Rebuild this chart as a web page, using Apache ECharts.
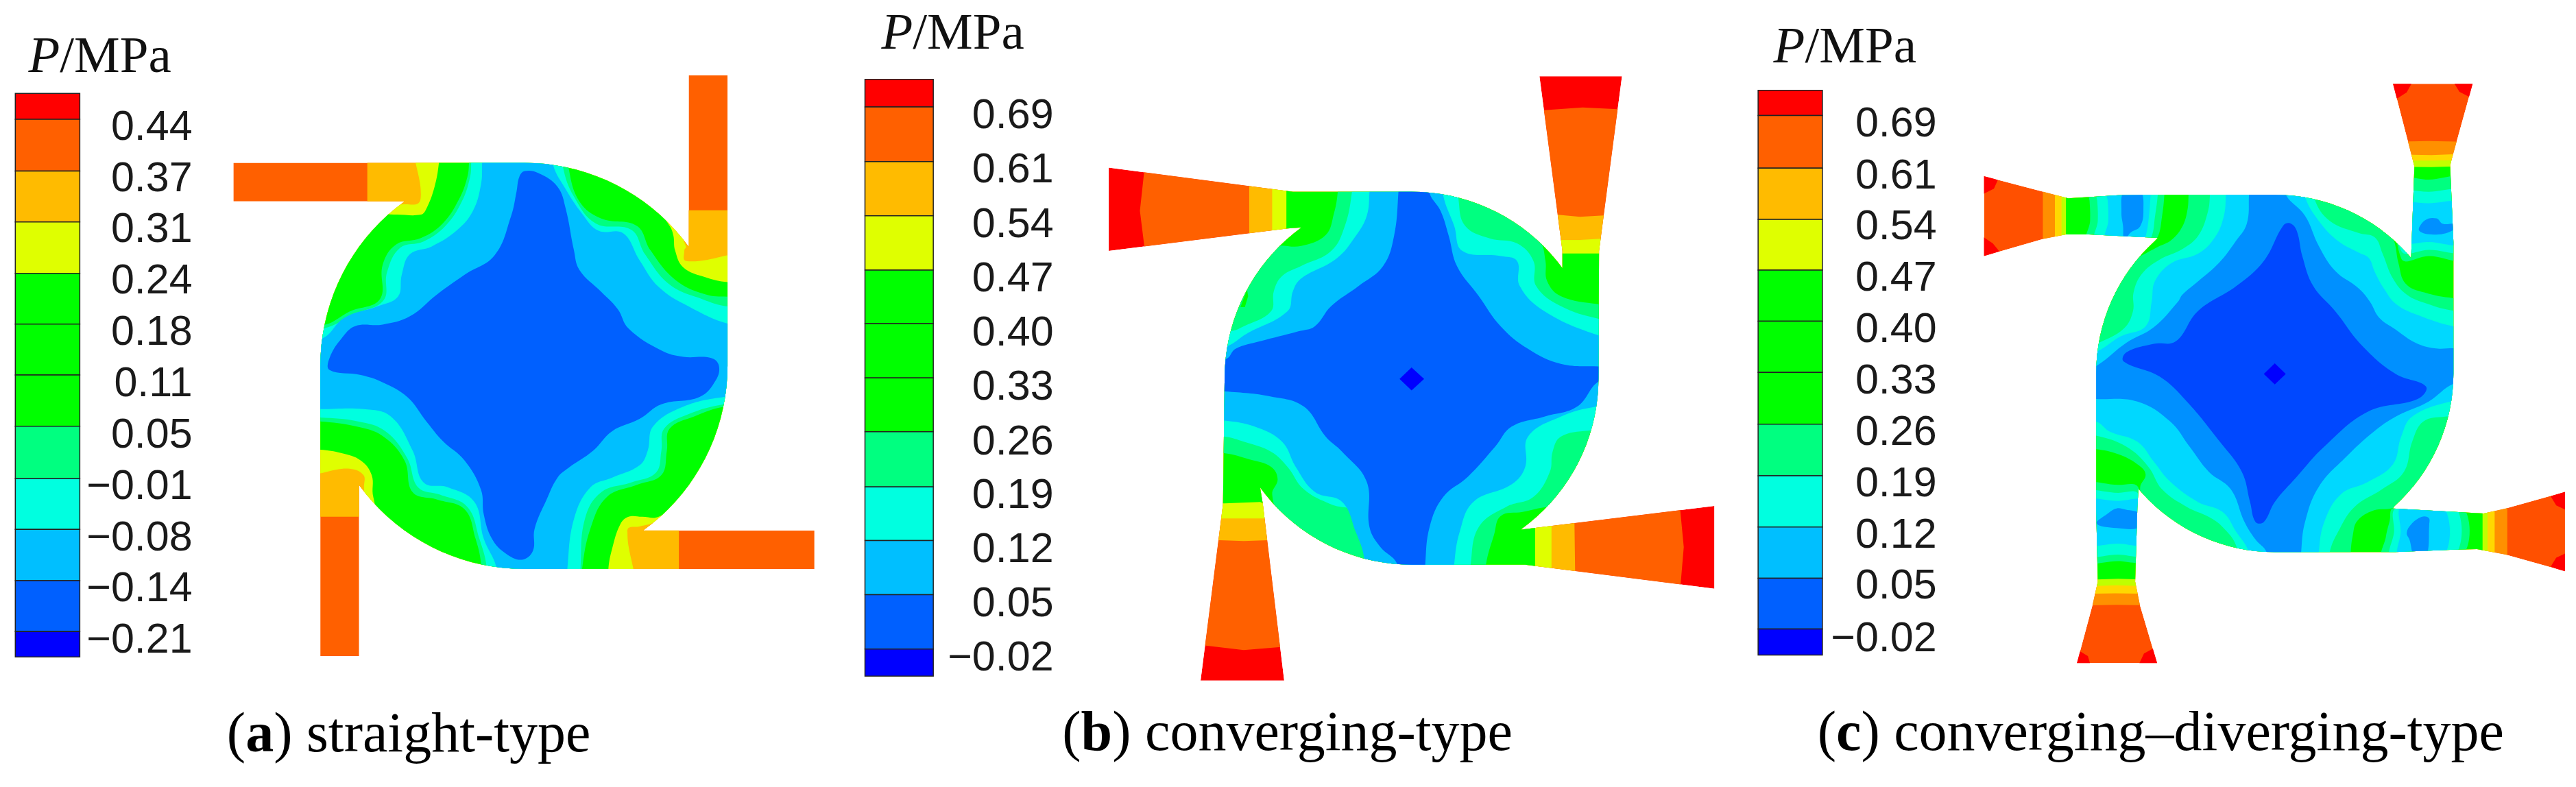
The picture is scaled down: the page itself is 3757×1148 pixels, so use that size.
<!DOCTYPE html>
<html><head><meta charset="utf-8">
<style>html,body{margin:0;padding:0;background:#fff}#c{width:3757px;height:1148px}</style>
<script src="https://cdn.jsdelivr.net/npm/echarts@6/dist/echarts.min.js"></script>
</head><body><div id="c"></div>
<script>
// ---- colour bar data ----
const labelsA=['0.44','0.37','0.31','0.24','0.18','0.11','0.05','\u22120.01','\u22120.08','\u22120.14','\u22120.21'];
const labelsB=['0.69','0.61','0.54','0.47','0.40','0.33','0.26','0.19','0.12','0.05','\u22120.02'];
const labelsC=['0.69','0.61','0.54','0.47','0.40','0.33','0.26','0.19','0.12','0.05','\u22120.02'];
const barColors=['#ff0000','#ff6000','#ffbb00','#dfff00','#00ff00','#00ff00','#00ff00','#00ff80','#00ffe0','#00bfff','#0060ff','#0000ff'];
const edgesA=[149,202,308,412,517,621,725,830,937,1041,1146,1250,1302];
const edgesB=[158,213,322,430,538,645,753,860,970,1077,1185,1293,1347];
const edgesC=[180,230,335,437,538,640,742,845,948,1050,1152,1253,1305];
const labelYA=[220,325,429,535,640,745,850,955,1060,1165,1270];
const labelYB=[233,341,449,557,665,773,883,989,1097,1205,1313];
const labelYC=[249,352,454,556,659,761,864,966,1068,1170,1274];

// the swirl chamber of every panel is one circle, seen through the stretched panel scale
function chamberArc(b,side,deg){
  const pts=[];
  for(let d=0;d<=deg;d+=3){
    const s=Math.sin(d*Math.PI/180),c=Math.cos(d*Math.PI/180);
    if(side==='tr')pts.push([b.cx+b.rx*s,b.cy-b.ry*c]);
    if(side==='br')pts.push([b.cx+b.rx*c,b.cy+b.ry*s]);
    if(side==='bl')pts.push([b.cx-b.rx*s,b.cy+b.ry*c]);
    if(side==='tl')pts.push([b.cx-b.rx*c,b.cy-b.ry*s]);
  }
  return pts;
}
const aChamber={cx:958.5,cy:706.5,rx:372.5,ry:415.5};
const bChamber={cx:1027,cy:753.5,rx:342,ry:371.5};
const cChamber={cx:1020,cy:744,rx:325,ry:356};

// ---- panel (a) straight-type: contour regions ----
const aOutline=[[427,291],...chamberArc(aChamber,'tr',54),[1260,462],[1260,112],[1331,112],[1331,706.5],...chamberArc(aChamber,'br',54),[1177,1043],[1490,1043],[1490,1122],...chamberArc(aChamber,'bl',54),[657,951],[657,1300],[586,1300],...chamberArc(aChamber,'tl',54),[739,370],[427,370]];
const aAmber=[[672,250],[1210,250],[1210,388],[1400,388],[1400,1000],[1242,1000],[1242,1170],[720,1170],[720,1015],[540,1015],[540,400],[672,400]];
const aYellow=[[770,250],[770,355],[765,374],[738,376],[700,380],[540,500],[540,917],[640,917],[665,930],[666,955],[668,990],[720,1060],[900,1170],[1148,1170],[1148,1050],[1150,1038],[1170,1035],[1200,1025],[1400,900],[1400,492],[1255,492],[1252,470],[1255,462],[1235,420],[1150,300],[1000,250]];
const aGreen=[[540,600],[680,400],[722,397],[770,397],[780,385],[795,340],[803,291],[805,250],[1000,250],[1150,300],[1225,420],[1232,440],[1235,470],[1250,505],[1290,525],[1331,535],[1400,535],[1400,900],[1205,1015],[1175,1015],[1150,1015],[1135,1030],[1120,1080],[1113,1122],[1113,1170],[900,1170],[700,1020],[683,975],[680,930],[660,900],[625,885],[586,878],[540,878]];
const aMint=[[540,622],[595,622],[640,595],[695,570],[700,500],[725,458],[770,445],[810,415],[840,365],[855,320],[858,291],[858,260],[1040,260],[1040,300],[1060,370],[1100,405],[1165,420],[1190,470],[1235,530],[1290,560],[1331,565],[1370,565],[1370,790],[1325,790],[1270,810],[1225,835],[1220,880],[1210,930],[1165,950],[1110,975],[1080,1040],[1065,1122],[1065,1160],[880,1160],[880,1110],[870,1060],[850,1000],[800,980],[755,965],[740,900],[700,850],[650,830],[586,820],[540,820]];
const aCyan=[[540,630],[592,630],[650,600],[702,572],[708,515],[732,465],[775,452],[815,420],[845,370],[860,320],[862,291],[862,260],[1030,260],[1030,300],[1050,360],[1090,415],[1155,428],[1180,478],[1225,540],[1285,570],[1331,585],[1370,585],[1370,785],[1325,785],[1260,805],[1215,835],[1210,880],[1200,925],[1155,945],[1100,965],[1070,1020],[1062,1122],[1062,1160],[890,1160],[890,1115],[877,1060],[855,995],[805,970],[765,955],[745,895],[705,840],[655,820],[586,812],[540,812]];
const aSky=[[540,650],[590,650],[630,608],[690,585],[728,565],[735,520],[750,478],[790,462],[835,430],[865,390],[880,335],[882,291],[882,260],[1012,260],[1012,296],[1035,345],[1065,395],[1095,430],[1140,435],[1170,490],[1205,545],[1260,585],[1331,620],[1370,620],[1370,770],[1325,770],[1250,790],[1195,830],[1185,880],[1170,910],[1120,935],[1080,955],[1050,1020],[1038,1122],[1038,1160],[908,1160],[908,1118],[885,1060],[868,985],[820,955],[775,945],[755,880],[715,810],[665,795],[586,795],[540,795]];
const aBlue=[[960,308],[985,312],[1020,340],[1035,385],[1050,470],[1060,510],[1100,555],[1130,590],[1150,630],[1210,675],[1250,688],[1300,690],[1315,705],[1310,735],[1280,770],[1210,785],[1170,815],[1120,840],[1085,880],[1040,915],[1020,935],[1000,980],[978,1040],[975,1085],[955,1103],[925,1090],[900,1060],[885,1010],[880,960],[850,900],[810,860],[780,820],[745,770],[700,740],[660,725],[603,715],[603,690],[625,650],[650,625],[700,622],[750,605],[800,560],[850,520],[905,480],[935,400],[945,350],[950,320]];

// ---- panel (b) converging-type ----
const bOutline=[[473,334],[810,382],...chamberArc(bChamber,'tr',54),[1303,535],[1303,500],[1261,152],[1412,152],[1370,500],[1369,753],...chamberArc(bChamber,'br',54),[1228,1055],[1581,1008],[1581,1173],[1235,1125],...chamberArc(bChamber,'bl',54),[750,972],[755,1005],[794,1356],[641,1356],[682,1005],[685,753],...chamberArc(bChamber,'tl',54),[826,453],[800,455],[473,500]];
const bOrange=[[536,250],[1230,250],[1230,218],[1265,220],[1340,214],[1410,218],[1440,218],[1440,950],[1518,950],[1518,1010],[1525,1090],[1518,1180],[1518,1230],[800,1230],[800,1288],[720,1295],[640,1285],[600,1285],[600,520],[536,520],[538,490],[530,420],[538,340]];
const bAmber=[[730,330],[1250,330],[1250,428],[1295,428],[1335,432],[1400,428],[1400,980],[1325,980],[1325,1040],[1327,1200],[800,1200],[800,1075],[720,1078],[640,1075],[640,540],[730,540]];
const bYellow=[[772,330],[1250,330],[1290,478],[1335,478],[1400,474],[1400,1000],[1283,1020],[1283,1200],[800,1200],[770,1033],[720,1033],[640,1033],[640,540],[740,500],[772,470]];
const bGreen=[[798,330],[1250,330],[1290,505],[1369,505],[1400,505],[1400,1000],[1253,1040],[1253,1200],[800,1200],[770,1010],[750,1000],[685,1003],[640,1003],[640,540],[770,480],[798,462]];
const bMint=[[650,903],[650,620],[770,495],[825,490],[870,468],[885,425],[892,382],[892,350],[1100,350],[1200,400],[1262,480],[1272,520],[1275,560],[1300,590],[1369,606],[1400,606],[1400,1000],[1275,1010],[1230,1020],[1190,1028],[1178,1065],[1163,1125],[1163,1160],[880,1160],[790,1040],[772,985],[782,955],[770,930],[730,915],[686,903]];
const bPatch=[[714,612],[726,577],[728,590],[722,612]];
const bCyan=[[650,660],[695,660],[720,650],[770,620],[775,580],[790,550],[825,530],[880,500],[905,450],[918,382],[918,350],[1113,350],[1113,398],[1125,450],[1170,475],[1220,485],[1250,520],[1255,570],[1300,610],[1369,635],[1400,635],[1400,858],[1350,858],[1300,870],[1285,900],[1280,940],[1250,990],[1200,1010],[1150,1050],[1135,1125],[1135,1160],[972,1160],[972,1120],[950,1075],[925,1020],[880,1005],[830,975],[800,930],[770,900],[720,880],[686,870],[650,870]];
const bSky=[[650,690],[688,690],[725,665],[800,620],[810,580],[825,555],[890,515],[925,470],[945,430],[950,382],[950,350],[1085,350],[1085,390],[1105,450],[1120,500],[1190,510],[1220,520],[1225,570],[1270,620],[1369,668],[1400,668],[1400,810],[1365,810],[1300,830],[1240,870],[1235,930],[1210,965],[1140,1000],[1115,1060],[1105,1125],[1105,1160],[940,1160],[940,1110],[925,1060],[900,1000],[850,980],[815,930],[790,880],[740,850],[685,838],[650,838]];
const bBlue=[[650,715],[688,715],[705,695],[750,680],[820,660],[850,650],[880,610],[930,570],[975,530],[995,470],[1003,382],[1003,350],[1060,350],[1060,385],[1080,420],[1095,470],[1110,530],[1150,590],[1190,650],[1240,695],[1300,725],[1369,730],[1400,730],[1400,760],[1369,760],[1330,810],[1270,830],[1210,850],[1180,890],[1130,950],[1085,990],[1060,1050],[1052,1125],[1052,1160],[1000,1160],[1000,1122],[970,1090],[950,1050],[945,960],[900,900],[870,870],[830,810],[770,790],[686,780],[650,780]];
const bDiamond=[[1027,732],[1050,755],[1027,778],[1005,755]];

// ---- panel (c) converging-diverging-type ----
const cOutline=[[491,351],[599,382],[644,395],[736,389],[800,388],...chamberArc(cChamber,'tr',49.7),[1268,514],[1274,332],[1272,323],[1235,167],[1380,167],[1341,321],[1339,330],[1345,482],[1345,744],...chamberArc(cChamber,'br',48.6),[1235,1013],[1400,1023],[1440,1013],[1548,980],[1548,1138],[1440,1105],[1388,1094],[1347,1095],[1239,1100],...chamberArc(cChamber,'bl',49.7),[772,974],[770,1011],[766,1159],[775,1207],[806,1321],[660,1321],[688,1207],[698,1159],[695,1011],[695,744],...chamberArc(cChamber,'tl',49),[807,474],[682,467],[640,467],[599,476],[491,510]];
const cAmber=[[598,330],[1200,330],[1200,283],[1300,281],[1400,283],[1400,950],[1443,950],[1443,1170],[850,1170],[850,1207],[732,1205],[630,1207],[630,530],[598,530]];
const cGold=[[620,330],[1200,330],[1200,307],[1305,309],[1400,305],[1400,950],[1420,950],[1420,1170],[850,1170],[850,1184],[730,1182],[630,1184],[630,530],[620,530]];
const cLime=[[632,330],[1200,330],[1200,320],[1305,320],[1400,318],[1400,960],[1407,960],[1407,1170],[850,1170],[850,1170],[732,1166],[630,1170],[630,530],[632,530]];
const cGreen=[[640,330],[1200,330],[1200,332],[1305,333],[1400,330],[1400,960],[1398,1000],[1398,1170],[850,1170],[850,1157],[735,1153],[630,1157],[630,530],[640,500]];
const cMint=[[660,895],[660,600],[760,520],[773,512],[807,492],[832,478],[852,451],[861,419],[863,389],[863,360],[1100,360],[1180,410],[1225,460],[1237,480],[1245,524],[1258,565],[1293,583],[1345,594],[1380,594],[1380,980],[1275,990],[1235,1012],[1200,1017],[1170,1038],[1162,1066],[1158,1102],[1158,1130],[900,1130],[785,1030],[775,972],[785,945],[770,925],[735,905],[695,895]];
const cMintL=[[680,370],[683,400],[684,440],[680,480],[795,476],[807,472],[815,430],[819,389],[819,370]];
const cMintT=[[1250,362],[1300,358],[1370,360],[1370,513],[1300,510],[1250,515]];
const cMintR=[[1236,1012],[1358,1005],[1358,1110],[1218,1110],[1222,1070],[1229,1038]];
const cMintB=[[660,970],[735,966],[772,972],[785,1113],[735,1118],[660,1113]];
const cAqua=[[660,868],[660,700],[700,683],[745,655],[762,620],[763,583],[778,546],[811,517],[852,496],[881,469],[898,423],[902,389],[902,360],[1092,360],[1092,396],[1120,440],[1172,464],[1202,473],[1216,505],[1235,555],[1260,587],[1297,605],[1345,619],[1380,619],[1380,830],[1330,830],[1290,840],[1270,880],[1255,940],[1215,975],[1165,1010],[1135,1060],[1120,1100],[1120,1130],[950,1130],[950,1088],[925,1050],[900,1030],[860,1010],[815,975],[790,930],[750,890],[695,868]];
const cAquaL=[[694,370],[697,400],[698,440],[694,480],[785,482],[796,471],[802,432],[807,389],[807,370]];
const cAquaT=[[1250,388],[1300,382],[1370,386],[1370,497],[1300,498],[1250,500]];
const cAquaR=[[1241,1012],[1345,1005],[1345,1110],[1233,1110],[1237,1060]];
const cAquaB=[[660,985],[735,982],[772,985],[785,1102],[735,1105],[660,1102]];
const cSky=[[660,840],[660,710],[697,700],[740,670],[785,650],[796,601],[802,560],[832,524],[881,505],[911,473],[927,432],[931,389],[931,360],[1075,360],[1075,392],[1100,440],[1135,480],[1172,503],[1191,514],[1202,542],[1218,574],[1241,606],[1281,628],[1345,650],[1380,650],[1380,800],[1340,800],[1270,830],[1250,870],[1235,925],[1190,960],[1140,985],[1110,1040],[1100,1100],[1100,1130],[972,1130],[972,1098],[950,1060],[925,1020],[880,1000],[830,960],[800,920],[770,880],[720,860],[695,840]];
const cSkyL=[[713,370],[716,400],[717,440],[713,480],[780,482],[785,471],[790,441],[794,389],[794,370]];
const cSkyT=[[1250,410],[1300,405],[1370,408],[1370,483],[1300,482],[1250,480]];
const cSkyR=[[1251,1008],[1326,1008],[1326,1110],[1247,1110],[1249,1060]];
const cSkyB=[[660,1000],[735,998],[785,1000],[785,1081],[735,1083],[660,1081]];
const cBlue=[[660,795],[660,745],[697,728],[750,683],[800,652],[844,601],[852,587],[881,560],[919,523],[948,482],[969,446],[973,389],[973,360],[1040,360],[1040,388],[1075,430],[1100,490],[1130,540],[1172,574],[1193,601],[1210,633],[1239,656],[1276,683],[1310,694],[1345,694],[1380,694],[1380,765],[1345,765],[1300,800],[1240,830],[1200,860],[1150,910],[1100,970],[1075,1040],[1068,1100],[1068,1130],[1005,1130],[1005,1100],[985,1075],[965,1040],[940,975],[900,940],[865,890],[830,840],[770,800],[695,795]];
const cBlobL=[[746,380],[775,380],[781,419],[775,451],[757,464],[746,480],[744,451],[741,423]];
const cBlobT=[[1283,460],[1293,439],[1314,435],[1326,446],[1350,446],[1350,455],[1318,467]];
const cBlobR=[[1260,1062],[1268,1045],[1287,1030],[1300,1032],[1301,1045],[1295,1110],[1275,1110],[1265,1075]];
const cBlobB=[[696,1043],[715,1024],[732,1013],[748,1015],[775,1024],[775,1050],[732,1052]];
const cCore=[[1048,445],[1060,460],[1070,510],[1090,570],[1130,620],[1180,690],[1240,745],[1295,770],[1280,795],[1190,820],[1110,890],[1060,950],[1020,1000],[1000,1040],[985,1040],[975,1000],[960,940],[920,880],[860,800],[810,750],[745,720],[750,702],[800,685],[840,680],[880,620],[950,570],[1000,520],[1035,450]];
const cDiamond=[[1020,724],[1040,745],[1020,766],[1000,745]];
const cRed1=[[480,340],[516,359],[509,376],[480,392]];
const cRed2=[[480,515],[519,501],[507,485],[480,465]];
const cRed3=[[1230,160],[1272,160],[1260,184],[1243,196],[1230,196]];
const cRed4=[[1343,160],[1385,160],[1385,196],[1372,192],[1356,183]];
const cRed5=[[1560,975],[1522,989],[1532,1007],[1560,1021]];
const cRed6=[[1560,1097],[1532,1111],[1522,1129],[1560,1145]];
const cRed7=[[655,1330],[686,1330],[680,1307],[666,1298],[655,1298]];
const cRed8=[[770,1330],[815,1330],[815,1293],[797,1293],[782,1302]];

// ---- captions ----
const headers=[['P','/MPa'],['P','/MPa'],['P','/MPa']];
const caps=[['a',' straight-type'],['b',' converging-type'],['c',' converging\u2013diverging-type']];

// ---- styles ----
const C={red:'#ff0000',org:'#ff6000',amb:'#ffbb00',yel:'#dfff00',grn:'#00ff00',mnt:'#00ff80',cyn:'#00ffe0',sky:'#00bfff',blu:'#0060ff',deep:'#0000ff'};
const D={org:'#ff5000',amb:'#ff9000',gold:'#ffd800',lime:'#c0ff00',grn:'#00ff00',mnt:'#00ff80',aqua:'#00ffd8',sky:'#00d8ff',blu:'#0090ff',core:'#0048ff'};
const S=0.4;
const panels=[
 {left:0,top:30,w:1250,h:1118,xMax:1568,yMax:1568,outline:aOutline,
  layers:[[C.org,aOutline,0],[C.amb,aAmber,0],[C.yel,aYellow,S],[C.grn,aGreen,S],[C.mnt,aMint,S],[C.cyn,aCyan,S],[C.sky,aSky,S],[C.blu,aBlue,S]],
  bar:[28,146],edges:edgesA,labels:labelsA,labelY:labelYA,labelX:352,headX:52,headY:78,capX:415,capY:1465},
 {left:1240,top:0,w:1275.5,h:1148,xMax:1600,yMax:1568,outline:bOutline,
  layers:[[C.red,bOutline,0],[C.org,bOrange,0],[C.amb,bAmber,0],[C.yel,bYellow,0],[C.grn,bGreen,0],[C.mnt,bMint,S],[C.grn,bPatch,0],[C.cyn,bCyan,S],[C.sky,bSky,S],[C.blu,bBlue,S],[C.deep,bDiamond,0]],
  bar:[27,152],edges:edgesB,labels:labelsB,labelY:labelYB,labelX:372,headX:57,headY:70,capX:388,capY:1465},
 {left:2500,top:0,w:1257,h:1148,xMax:1568,yMax:1568,outline:cOutline,
  layers:[[D.org,cOutline,0],[D.amb,cAmber,0],[D.gold,cGold,0],[D.lime,cLime,0],[D.grn,cGreen,0],
   [D.mnt,cMint,S],[D.mnt,cMintL,S],[D.mnt,cMintT,S],[D.mnt,cMintR,S],[D.mnt,cMintB,S],
   [D.aqua,cAqua,S],[D.aqua,cAquaL,S],[D.aqua,cAquaT,S],[D.aqua,cAquaR,S],[D.aqua,cAquaB,S],
   [D.sky,cSky,S],[D.sky,cSkyL,S],[D.sky,cSkyT,S],[D.sky,cSkyR,S],[D.sky,cSkyB,S],
   [D.blu,cBlue,S],[D.blu,cBlobL,S],[D.blu,cBlobT,S],[D.blu,cBlobR,S],[D.blu,cBlobB,S],
   [D.core,cCore,S],[C.deep,cDiamond,0],
   [C.red,cRed1,0],[C.red,cRed2,0],[C.red,cRed3,0],[C.red,cRed4,0],[C.red,cRed5,0],[C.red,cRed6,0],[C.red,cRed7,0],[C.red,cRed8,0]],
  bar:[80,197],edges:edgesC,labels:labelsC,labelY:labelYC,labelX:405,headX:108,headY:98,capX:188,capY:1465}
];

const SANS='"Liberation Sans",Arial,sans-serif', SERIF='"Liberation Serif","Times New Roman",serif';
const grid=[],xAxis=[],yAxis=[],series=[];
panels.forEach((p,i)=>{
  grid.push({left:p.left,top:p.top,width:p.w,height:p.h,containLabel:false});
  xAxis.push({type:'value',gridIndex:i,min:0,max:p.xMax,show:false});
  yAxis.push({type:'value',gridIndex:i,min:0,max:p.yMax,inverse:true,show:false});
  const base={type:'custom',coordinateSystem:'cartesian2d',xAxisIndex:i,yAxisIndex:i,silent:true,animation:false,clip:false};
  series.push(Object.assign({},base,{data:p.layers.map((l,k)=>[k]),encode:{x:0,y:0},
    renderItem:(ps,api)=>{
      const l=p.layers[ps.dataIndex];
      return {type:'polygon',shape:{points:l[1].map(q=>api.coord(q)),smooth:l[2]},style:{fill:l[0],stroke:null},
        clipPath:{type:'polygon',shape:{points:p.outline.map(q=>api.coord(q))}}};
    }}));
  series.push(Object.assign({},base,{data:barColors.map((c,k)=>[k]),encode:{x:0,y:0},
    renderItem:(ps,api)=>{
      const k=ps.dataIndex;
      const a=api.coord([p.bar[0],p.edges[k]]),b=api.coord([p.bar[1],p.edges[k+1]]);
      return {type:'rect',shape:{x:a[0],y:a[1],width:b[0]-a[0],height:b[1]-a[1]},
        style:{fill:barColors[k],stroke:'#222',lineWidth:1.5}};
    }}));
  series.push(Object.assign({},base,{data:p.labels.map((c,k)=>[k]),encode:{x:0,y:0},
    renderItem:(ps,api)=>{
      const k=ps.dataIndex,a=api.coord([p.labelX,p.labelY[k]]);
      return {type:'text',style:{text:p.labels[k],x:a[0],y:a[1],align:'right',verticalAlign:'middle',
        fontFamily:SANS,fontSize:61,fill:'#1a1a1a'}};
    }}));
  series.push(Object.assign({},base,{data:[[0],[1]],encode:{x:0,y:0},
    renderItem:(ps,api)=>{
      if(ps.dataIndex===0){
        const a=api.coord([p.headX,p.headY]);
        return {type:'text',style:{text:'{i|'+headers[i][0]+'}{r|'+headers[i][1]+'}',x:a[0],y:a[1],align:'left',verticalAlign:'middle',
          rich:{i:{fontFamily:SERIF,fontStyle:'italic',fontSize:75,fill:'#111'},r:{fontFamily:SERIF,fontSize:75,fill:'#111'}}}};
      }
      const a=api.coord([p.capX,p.capY]);
      return {type:'text',style:{text:'{r|(}{b|'+caps[i][0]+'}{r|)'+caps[i][1]+'}',x:a[0],y:a[1],align:'left',verticalAlign:'middle',
        rich:{b:{fontFamily:SERIF,fontWeight:'bold',fontSize:82,fill:'#000'},r:{fontFamily:SERIF,fontSize:82,fill:'#000'}}}};
    }}));
});
const chart=echarts.init(document.getElementById('c'),null,{renderer:'canvas'});
chart.setOption({backgroundColor:'#fff',animation:false,tooltip:{show:false},grid,xAxis,yAxis,series});
</script></body></html>
